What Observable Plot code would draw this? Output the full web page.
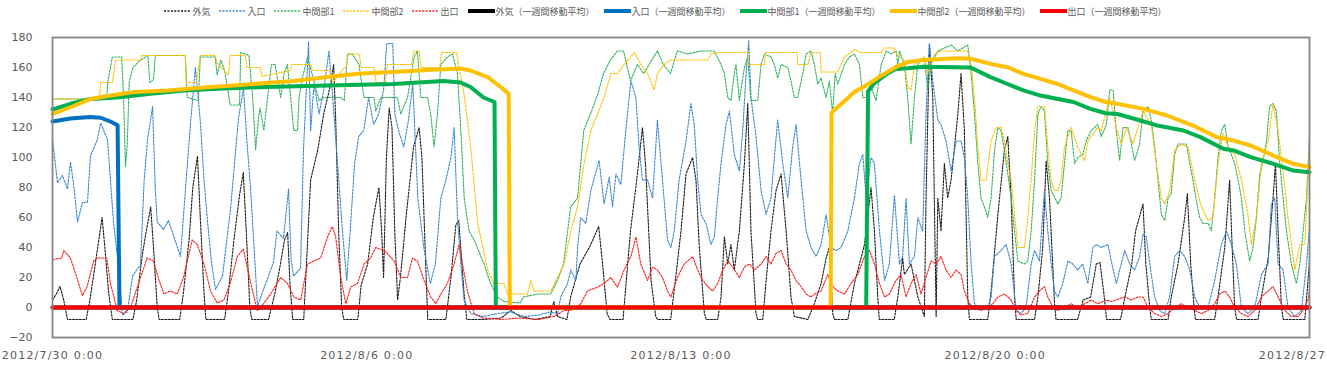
<!DOCTYPE html>
<html><head><meta charset="utf-8">
<script src="https://cdn.jsdelivr.net/npm/d3@7"></script>
<script src="https://cdn.jsdelivr.net/npm/@observablehq/plot@0.6"></script>
<style>
body{margin:0;background:#fff;overflow:hidden;}
#legend{height:22px;display:flex;align-items:center;justify-content:center;gap:9px;font:9px "Noto Sans CJK JP",sans-serif;color:#595959;padding-left:4px;}
.item{display:flex;align-items:center;gap:1px;white-space:nowrap;}
</style></head><body>
<div id="legend"></div>
<div id="chart"></div>
<script>
// ---- data: [hours since 2012/7/30 0:00, value] ----
const seriesNames = ["外気","入口","中間部1","中間部2","出口"];
const maSuffix = "（一週間移動平均）";
const yTicks = [-20,0,20,40,60,80,100,120,140,160,180];
const xTickDays = ["2012-07-30","2012-08-06","2012-08-13","2012-08-20","2012-08-27"];

const outside = [[0,5],[2,9],[4,14],[6,5],[8,-8],[18,-8],[20,5],[23,30],[26.5,60],[28,40],[30,10],[32,-8],[43,-8],[45,5],[48,35],[50,50],[52.5,67],[54,40],[56,0],[57,-8],[68,-8],[70,10],[73,45],[75,80],[77.5,101],[79,60],[81,10],[82,-8],[92,-8],[94,10],[97,45],[100,75],[102,90],[104,40],[105.5,0],[106.5,-8],[115.5,-8],[119,10],[122,30],[124,45],[125.7,50],[127,15],[128.4,-8],[134.3,-8],[136.4,45],[138,85],[141.8,105],[145,129],[148.7,149],[150.3,162],[151.4,125],[153,50],[154.6,0],[155.7,-8],[163.2,-8],[165,15],[168.5,29],[171.5,60],[174.5,80],[176,50],[177,20],[178.5,100],[180,133],[181.5,120],[183,50],[184.5,5],[186,20],[189,60],[193,107],[196,120],[197.5,100],[199.5,30],[200.6,-8],[210.3,-8],[213,20],[215.6,55],[217.2,58],[220,10],[221.5,-8],[230,-8],[240,-7],[245,-2],[250,-6],[258,-8],[266,-6],[268,4],[270,-6],[275,-8],[277,7],[282,29],[287,40],[292,54],[294,30],[296.5,-4],[298,-8],[305,-8],[307.5,29],[309,51],[312.7,89],[315.4,120],[317,96],[320,18],[322.5,-6],[323.5,-8],[330.5,-8],[334,29],[336,51],[338.7,89],[342.2,100],[344,85],[345.8,40],[348.5,-4],[349.5,-8],[355.6,-8],[357.4,7],[359.2,47],[361,29],[362.7,42],[364.5,25],[367.2,51],[369.9,96],[371.7,136],[373.4,51],[376.1,-4],[377,-8],[379.7,-8],[381.5,18],[384.1,51],[386.8,78],[389.5,89],[392.2,51],[394.8,7],[396.6,-6],[403.8,-8],[407.3,2.5],[410.9,16],[413.6,33],[415.3,40],[417.1,-4],[418,-8],[425.2,-8],[428.7,16],[434.1,42],[437.6,80],[439.4,51],[441.2,7],[442,-8],[450,-8],[451.9,7],[454.5,33],[455.4,22],[459,29],[462.6,7],[466.1,-6],[467,73],[468.8,176],[470.6,140],[472.4,-6],[473.3,73],[475,51],[476.8,96],[478.6,73],[480.4,85],[482.2,107],[484,129],[485.7,156],[487.5,118],[489.3,7],[490.2,-8],[500,-8],[501.8,11],[505.4,62],[508.9,105],[510.7,114],[512.5,73],[514.3,7],[515.2,-8],[525,-8],[526.8,7],[529.4,40],[531.2,98],[533,73],[535.7,2.5],[536.5,-8],[548,-8],[551,5],[555,7],[558,29],[560,30],[562,10],[563.5,-8],[571,-8],[573,5],[577,29],[579,51],[583,69],[584.5,29],[586.6,0],[587.4,-8],[596.4,-8],[598.1,7],[601.7,29],[605.3,60],[606.7,76],[608.5,29],[610.3,0],[611,-8],[621.3,-8],[623.1,7],[626.7,40],[629.3,85],[630.6,42],[632,0],[633,-8],[644.5,-8],[646.3,7],[649.9,33],[652.5,73],[653.8,96],[655.2,51],[657,0],[658,-8],[669.5,-8],[671.2,18],[672,31]];

const inlet = [[0,112],[2.7,83],[5.3,88],[8,79],[9.6,97],[11.2,83],[13.4,57],[16,70],[18.7,70],[20.3,101],[24,112],[25.7,123],[29.4,112],[32.6,57],[34.7,34],[37.4,-5],[40,-3],[42.8,21],[45,25],[47,28],[49,85],[50.8,112],[53.5,134],[55,78],[56,57],[59.3,52],[62,58],[64.7,48],[68.4,34],[71.1,79],[73.8,123],[76.4,160],[79.1,123],[81,85],[82.9,57],[85,30],[87.1,12],[90.9,21],[95.2,66],[99.4,126],[102.1,146],[104,110],[105.9,79],[109.6,1],[112.8,12],[118.1,30],[120,51],[123.5,46],[126.2,79],[127.5,33],[128.8,21],[132.6,26],[134.2,106],[136.9,177],[138,118],[139.8,149],[142.5,129],[145,145],[147.8,171],[149.5,145],[152.4,96],[155,51],[157.3,18],[159.4,56],[161.5,96],[163.7,114],[166.4,118],[169,140],[171.7,122],[174.4,129],[177,145],[178.7,176],[181.9,176],[183,129],[185,118],[187.8,107],[190.3,125],[192.6,149],[195.3,73],[198.5,40],[202,16],[204.7,29],[207.6,73],[210.3,85],[213,100],[214.7,120],[216.5,60],[218.3,29],[220,5],[223.6,-4],[230,-6],[238,-4],[245,-3],[252,-6],[260,-5],[266,-3],[270,-4],[271.7,7],[275.3,16],[277.1,25],[279.8,18],[280.7,40],[282.4,60],[285.1,56],[287.8,78],[292.2,98],[294.9,69],[297.6,87],[299.4,67],[301.2,89],[303.8,82],[306.5,118],[309.2,151],[311.9,140],[313.6,107],[315.4,85],[318.1,85],[320.8,73],[323.4,125],[326.1,85],[328.8,45],[330.6,40],[332.4,51],[335,85],[338.7,111],[341.3,136],[343.1,122],[344.9,85],[346.7,62],[349.4,56],[352,42],[353.8,47],[355.6,73],[357.4,96],[360.1,122],[361.9,131],[364.5,102],[367.2,91],[369,118],[370.8,156],[372.2,178],[373.4,140],[376.1,114],[378.8,78],[381.5,62],[384.1,73],[385.9,100],[387.7,125],[390.4,96],[393.1,73],[395.7,107],[397.5,122],[400.2,85],[402.9,51],[405.5,40],[408.2,34],[410.9,42],[413.6,62],[416.2,40],[418.9,38],[421.6,40],[425.2,51],[428.7,73],[431.4,96],[433.2,102],[435,73],[437.6,100],[439.4,96],[442.1,51],[444.8,18],[447.4,29],[450.1,75],[452.8,29],[454.5,34],[456.3,73],[458.1,29],[460.8,34],[462.6,60],[465.2,51],[467,129],[468.8,176],[470.6,151],[473.3,125],[475,122],[477.7,111],[480.4,91],[483.1,111],[485.7,111],[487.5,100],[489.3,73],[491.1,29],[492.9,2.5],[494.7,0],[500,0],[501.8,7],[503.6,34],[507.1,38],[509.8,42],[512.5,29],[515.2,-2],[517.8,-4],[520.5,0],[523.2,29],[525,38],[527.6,31],[530.3,78],[532.1,51],[533.9,29],[535.7,11],[537.5,7],[540.1,16],[542.8,31],[545.5,29],[548.1,25],[550.8,29],[553.5,16],[556.2,40],[558,42],[560.6,40],[564.3,42],[566,31],[568.7,16],[570.5,25],[573.2,38],[575.9,29],[578.5,25],[581.2,34],[583,49],[584.8,47],[586.6,29],[589.2,7],[591.9,-2],[594.6,-4],[597.2,7],[599.9,34],[602.6,38],[605.3,34],[608,25],[610.6,7],[613.3,0],[617.8,0],[621.3,18],[624.9,42],[627.6,51],[630.2,42],[632.9,29],[635.6,0],[639.1,-4],[642.7,0],[646.3,22],[649.9,29],[651.6,69],[653.4,73],[655.2,29],[657.9,25],[660.5,0],[664.1,-6],[667.7,-2],[670.4,29],[672,54]];

const mid1 = [[0,139],[29,139],[29.5,150],[32,167],[37,167],[38,140],[39,94],[40,110],[41,150],[43,160],[47,165],[51,168],[52,150],[54,152],[55,168],[71,168],[72,140],[78,138],[79,167],[87,167],[88,155],[90,165],[92,158],[95,135],[100,135],[100.6,170],[105,168],[107,140],[108.6,105],[110,125],[111,133],[113,118],[115,140],[117,162],[119,162],[122,140],[123.8,156],[125.6,162],[127.3,140],[129,118],[131,118],[131.8,140],[133.6,153],[136.3,167],[139.8,151],[142.5,138],[145,140],[154,140],[156,138],[157.7,169],[160.3,169],[163.9,162],[164.8,153],[166.6,140],[171.9,140],[172.8,131],[175.5,140],[184.4,140],[186.2,129],[189.8,140],[193.3,167],[195.1,171],[196.9,140],[200.5,140],[202.2,129],[204,107],[205.8,129],[207.6,162],[211.1,167],[213.8,169],[216.5,156],[218.3,118],[220.1,73],[222.7,51],[225.4,45],[230.7,29],[234.2,16],[237.9,7],[241.5,4],[250,3],[251.8,7],[259.3,9],[266.2,9],[270,18],[273.2,29],[277,67],[280.7,73],[284,118],[287.6,129],[291.4,142],[294.6,156],[298.3,165],[302,171],[305.3,171],[309,151],[312.7,162],[316,156],[323.4,171],[326.6,162],[330.4,156],[334,171],[339.6,169],[346.7,171],[353.8,171],[357.4,162],[359.2,156],[361,140],[362.7,138],[364.5,156],[365.4,162],[367.2,138],[369.9,160],[371.7,167],[373.4,138],[377,138],[378.8,162],[380.6,169],[384.1,167],[385.9,162],[387.7,153],[389.5,162],[393.1,160],[394.8,151],[396.6,140],[398.4,140],[401.1,156],[402.9,169],[405.5,171],[407.3,162],[409.1,149],[410.9,153],[413.6,140],[415.3,151],[417.1,129],[418.4,156],[419.8,149],[423.4,162],[426,167],[428.7,169],[431.4,162],[433.2,140],[435,140],[437.6,147],[440.3,138],[443,162],[445.7,171],[448.3,169],[451,171],[451.9,162],[452.8,171],[455.4,162],[457.2,140],[459,109],[460.8,140],[462.6,162],[466.1,167],[467.9,145],[469.7,162],[473.3,171],[480.4,175],[484,171],[489.3,175],[491.1,156],[492.9,129],[494.7,96],[496.4,73],[498.2,67],[500,60],[501.8,73],[503.6,105],[505.4,120],[507.1,118],[508.9,105],[510.7,89],[512.5,73],[514.3,51],[516.1,31],[519.6,29],[521.4,31],[523.2,51],[525,85],[526.8,129],[528.5,134],[530.3,131],[532.1,96],[533.9,78],[537.5,69],[539.2,73],[541,96],[542.8,118],[544.6,118],[546.4,96],[548.1,100],[550.8,102],[552.6,111],[555.3,118],[558.8,122],[560.7,114],[563.4,122],[565.2,145],[567,145],[568.7,118],[570.5,98],[572.3,120],[575,120],[576.8,109],[578.5,98],[581.2,109],[583,131],[585.7,134],[587.4,125],[589.2,107],[591,85],[592.8,62],[594.6,58],[596.4,73],[598.1,76],[599.9,102],[601.7,109],[606.2,109],[608,96],[609.7,85],[611.5,71],[613.3,60],[615.1,56],[617.8,56],[619.5,51],[621.3,73],[623.1,100],[624.9,118],[626.7,122],[628.5,107],[630.2,102],[632,96],[633.8,85],[635.6,73],[637.4,51],[640,31],[641.8,40],[643.6,60],[645.4,89],[647.2,98],[649,111],[650.7,134],[652.5,136],[654.3,131],[656.1,96],[657.9,73],[659.7,51],[662.3,29],[665,16],[666.8,29],[668.6,51],[670.4,73],[672,115]];

const mid2 = [[0,139],[25,139],[25.7,150],[32,150],[33.7,165],[47,165],[47.5,168],[71,168],[71.5,150],[77,150],[79,168],[87,168],[88,163],[94,155],[95,168],[103,168],[104,160],[111,160],[112,154],[127,158],[128,162],[138,162],[139,158],[148,158],[150,150],[156,160],[157,160],[158,169],[164,169],[165,160],[172,160],[173,150],[178,150],[179,162],[192,162],[193,171],[196,171],[197,160],[207,160],[208,170],[216,170],[217,162],[219.7,145],[223.6,107],[227.2,57],[232.6,25],[236,16],[241.4,16],[243.2,9],[253.9,9],[255.7,18],[257.5,11],[266.4,11],[270,20],[273.5,29],[277.1,51],[280.7,67],[284.2,96],[287.8,118],[291.4,129],[294.9,140],[298.5,156],[302,156],[305.6,162],[311,170],[314.5,162],[318.1,156],[321.7,145],[323.4,156],[327,162],[330.6,165],[350.3,165],[352,169],[355.6,170],[371.7,170],[372,162],[380.6,162],[381,170],[398,170],[398.4,162],[403.8,162],[405.5,170],[410.5,170],[410.9,157],[419.8,157],[423.4,167],[428.7,172],[432,170],[443,170],[444.8,173],[450.1,173],[451,169],[455.4,165],[457.2,147],[459,145],[460.8,162],[466.1,167],[467.9,156],[471.5,169],[475,171],[489.3,171],[491.1,162],[492.9,140],[494.7,107],[496.4,85],[499.1,85],[501.8,111],[504.5,120],[507.1,120],[508.9,111],[510.7,96],[512.5,85],[514.3,62],[516.1,40],[519.6,40],[521.4,60],[523.2,85],[525,118],[526.8,134],[530.3,134],[532.1,107],[533.9,85],[535.7,78],[537.5,78],[539.2,85],[541,107],[544.6,120],[548.1,107],[551.7,98],[553.5,111],[555.3,114],[558.8,120],[560.7,118],[565.2,140],[568.7,120],[571.4,109],[574.1,120],[577.6,109],[583,131],[587.4,122],[590.1,96],[592.8,73],[594.6,69],[597.3,78],[599.9,105],[603.5,109],[607.1,107],[610.6,85],[614.2,67],[617.8,58],[620.4,60],[623.1,96],[625.8,116],[628.5,107],[632,102],[635.6,85],[639.1,62],[640.9,42],[643.6,60],[646.3,96],[649.9,111],[652.5,136],[655.2,118],[657.9,91],[660.5,60],[664.1,25],[666.8,42],[669.5,42],[672,107]];

const outlet = [[0,32],[5,33],[6,38],[9.6,33],[13,20],[16,8],[18.5,14],[22,31],[24,33],[29,33],[31,16],[34.6,-2],[38,-4],[41.7,0],[46,16],[50.6,33],[54,31],[57,18],[59.6,9],[63,11],[66.7,9],[70,20],[74.7,45],[77.4,42],[81,29],[84.5,11],[88,3],[91.6,5],[95,16],[98.8,34],[102,39],[106,16],[109.5,-2],[111.3,0],[116.6,9],[122,20],[125.6,16],[129.1,7],[132.7,5],[136.3,29],[139.8,31],[143.4,33],[147,47],[149.6,54],[151.4,47],[154.1,20],[156.8,2.5],[159.4,13.6],[163,16],[166.6,29],[170.1,33],[172.8,40],[177.3,38],[179,36],[182.6,31],[186.2,20],[189.8,20],[192.4,33],[195.1,31],[198.7,18],[202.2,7],[204.9,2.5],[207.6,9],[211.1,16],[214.7,29],[217.4,42],[219.2,29],[221.8,11],[225.4,-4],[230,-7],[240,-8],[250,-7],[260,-8],[268,-6],[273.5,-2],[277.1,-2],[282.4,2.5],[286,11],[291.4,13.6],[294.9,16],[298.5,20],[302,13.6],[305.6,25],[309.2,34],[311.9,47],[314.5,29],[318.1,18],[320.8,27],[323.4,25],[326.1,20],[328.8,11],[330.6,7],[334.1,20],[337.7,29],[339.6,31],[342.2,34],[344.9,25],[347.6,18],[350.3,14],[352.9,11],[355.6,16],[358.3,25],[361,31],[363.6,27],[367.2,20],[369.9,27],[372.6,29],[375.2,25],[378.8,29],[381.5,34],[384.1,29],[386.8,36],[389.5,38],[392.2,29],[394.8,25],[397.5,18],[400.2,14],[402.9,9],[405.5,7],[407.3,9],[410.9,11],[414.5,22],[417.1,14],[419.8,11],[423.4,9],[426.9,16],[430.5,22],[434.1,34],[436.7,38],[439.4,29],[442.1,16],[444.8,7],[447.4,9],[450.1,16],[451,18],[453.6,22],[456.3,7],[459,16],[461.7,22],[464.3,9],[467,20],[469.7,31],[472.4,29],[475,34],[477.7,25],[480.4,20],[483.1,25],[485.7,22],[487.5,11],[490.2,2.5],[492.9,0],[496.4,-2],[500,0],[502.7,2.5],[505.4,7],[508.9,9],[512.5,5],[515.2,-2],[517.8,-5],[521.4,-4],[525,7],[527.6,11],[530.3,14],[532.1,7],[534.8,0],[537.5,-2],[541,0],[544.6,2.5],[548.1,0],[551.7,2.5],[555.3,5],[558.8,2.5],[563.3,5],[566,4],[573.2,7],[576.7,5],[580.3,7],[583,7],[585.7,0],[589.2,-4],[592.8,-6],[596.4,-4],[599.9,0],[603.5,2.5],[607.1,0],[610.6,-2],[614.2,-4],[617.8,-2],[621.3,2.5],[624,9],[626.7,11],[629.3,7],[632,0],[635.6,-4],[639.1,-6],[642.7,-2],[646.3,7],[649.9,11],[652.5,14],[655.2,7],[658.8,-2],[662.3,-6],[665.9,-6],[668.6,-2],[671.2,5],[672,11]];

// one-week moving averages
const outsideMA = [[0,0],[672,0]];
const inletMA = [[0,124],[9.6,126],[20,127],[25.7,126.5],[31,124],[34.8,121.5],[35.8,0],[672,0]];
const mid1MA = [[0,132],[9.6,135.8],[20.3,139],[34.7,140],[52.4,142.5],[70,144.7],[88.2,145.8],[113.9,147],[147,148],[182.3,149],[209,151],[218.1,150],[223.5,147],[230.4,140],[236.3,137],[237,0],[435,0],[436,144],[438.9,149],[446.4,156],[450.7,159],[457.1,159.5],[465.6,160.5],[490.8,160],[501.5,153.6],[510.5,149],[519.1,144.7],[528.2,141.3],[533.5,140],[545.8,137],[554.9,132.4],[563,129.5],[569.3,129],[581.6,124.7],[590.7,121.3],[604.6,118],[613.7,113.6],[626,105.8],[631.4,104.7],[640.5,100.2],[652.7,95.8],[663.4,91.3],[672,90.2]];
const mid2MA = [[0,129],[9.6,133.5],[20.3,139],[31,141.3],[43.8,143.6],[61.5,144.7],[79.1,146.5],[96.8,148],[113.9,149.6],[128.8,151],[147,153.6],[164.7,156],[182.3,157],[200.5,158.4],[218.1,159.3],[223.5,158],[232.6,153.6],[239.6,147],[243.9,142.4],[244.5,0],[416,0],[416.5,130],[421.8,135.8],[428.7,143.6],[436.2,149],[443.2,154.7],[450.7,160.2],[457.1,163.6],[465.6,165],[483.8,166.2],[490.8,165.8],[501.5,162.4],[510.5,160.2],[519.1,155.8],[528.2,152.4],[537.3,149],[545.8,144.7],[554.9,140.2],[563,137],[569.3,135.8],[583.2,132.4],[595.8,128],[609.7,121.3],[622.5,113.6],[631.4,111.3],[640.5,108],[652.7,101.3],[663.4,95.8],[672,93.6]];
const outletMA = [[0,0],[672,0]];

// ---- styling ----
const rawColors = ["#1a1a1a","#3a86d0","#2fb35a","#ffc000","#ff2020"];
const maColors  = ["#000000","#0070c0","#00b050","#ffc000","#ff0000"];
const rawDash = "2,1.4";

const T0 = Date.UTC(2012,6,30);
const toDate = h => new Date(T0 + h*3600e3);
const rows = arr => arr.map(([h,v]) => ({t: toDate(h), v}));
const rawSets = [outside, inlet, mid1, mid2, outlet];
const maSets = [outsideMA, inletMA, mid1MA, mid2MA, outletMA];

// legend
const legend = document.getElementById("legend");
function addItem(label, color, thick){
  const it = document.createElement("div"); it.className = "item";
  const sw = thick
    ? `<svg width="27" height="8"><line x1="0" x2="27" y1="4" y2="4" stroke="${color}" stroke-width="4"/></svg>`
    : `<svg width="27" height="8"><line x1="0" x2="27" y1="4" y2="4" stroke="${color}" stroke-width="1.6" stroke-dasharray="2,1.4"/></svg>`;
  it.innerHTML = sw + `<span>${label}</span>`;
  legend.appendChild(it);
}
seriesNames.forEach((n,i) => addItem(n, rawColors[i], false));
seriesNames.forEach((n,i) => addItem(n + maSuffix, maColors[i], true));

const fmt = d => `${d.getUTCFullYear()}/${d.getUTCMonth()+1}/${d.getUTCDate()} 0:00`;

const marks = [];
rawSets.forEach((s,i) => marks.push(Plot.line(rows(s), {x:"t", y:"v", stroke: rawColors[i], strokeWidth: 1.1, strokeDasharray: rawDash})));
maSets.forEach((s,i) => marks.push(Plot.line(rows(s), {x:"t", y:"v", stroke: maColors[i], strokeWidth: 4, strokeLinejoin:"round"})));
marks.push(Plot.frame({stroke:"#858585", strokeWidth:1.8}));

const chart = Plot.plot({
  width: 1327, height: 345,
  marginTop: 15, marginBottom: 30, marginLeft: 52, marginRight: 18,
  x: {type:"utc", domain:[toDate(0), toDate(672)], ticks: xTickDays.map(s => new Date(s+"T00:00:00Z")), tickFormat: fmt, tickSize: 0, tickPadding: 14, label: null},
  y: {domain:[-20,180], ticks: yTicks, tickSize: 0, tickPadding: 20, label: null},
  style: {fontFamily: "DejaVu Sans, sans-serif", fontSize: "11px", color: "#595959", background: "white", overflow: "visible"},
  marks
});
d3.select(chart).selectAll("[aria-label='x-axis tick label'] text").style("letter-spacing", "1.2px");
document.getElementById("chart").appendChild(chart);
</script>
</body></html>
